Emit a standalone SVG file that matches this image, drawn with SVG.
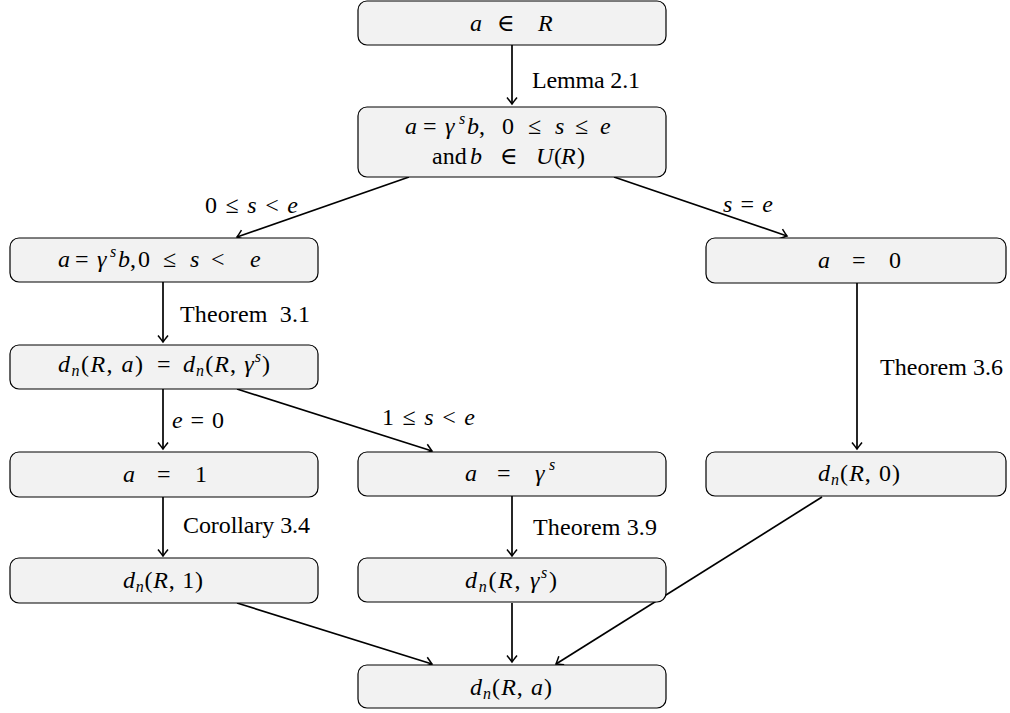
<svg xmlns="http://www.w3.org/2000/svg" width="1010" height="713" viewBox="0 0 1010 713">
<style>
.node rect{fill:#f2f2f2;stroke:#000;stroke-width:1.2}
text{font-family:"Liberation Serif","DejaVu Serif",serif;font-size:24px;fill:#000}
.i{font-style:italic}
.sup{font-size:16px;font-style:italic}
.sub{font-size:16px;font-style:italic}
.edge{stroke:#000;stroke-width:1.7;fill:none;marker-end:url(#arr)}
</style>
<defs>
<marker id="arr" viewBox="-8 -6 10 12" markerWidth="10" markerHeight="12" refX="0" refY="0" orient="auto" markerUnits="userSpaceOnUse">
<path d="M-6.5,-5 Q-1.5,-1 0,0 Q-1.5,1 -6.5,5" fill="none" stroke="#000" stroke-width="1.5"/>
</marker>
</defs>
<rect width="1010" height="713" fill="#fff"/>

<g id="edges">
<line class="edge" x1="512" y1="45" x2="512" y2="104"/>
<line class="edge" x1="409" y1="177" x2="237" y2="237"/>
<line class="edge" x1="614" y1="177" x2="787" y2="236"/>
<line class="edge" x1="163" y1="282" x2="163" y2="342"/>
<line class="edge" x1="163" y1="389" x2="163" y2="449"/>
<line class="edge" x1="237" y1="389" x2="432" y2="451"/>
<line class="edge" x1="857" y1="283" x2="857" y2="449"/>
<line class="edge" x1="163" y1="497" x2="163" y2="556"/>
<line class="edge" x1="512" y1="496" x2="512" y2="556"/>
<line class="edge" x1="237" y1="603" x2="432" y2="664"/>
<line class="edge" x1="512" y1="603" x2="512" y2="662"/>
<line class="edge" x1="822" y1="497" x2="556" y2="664"/>
<text x="532" y="88" textLength="108" lengthAdjust="spacing">Lemma 2.1</text>
<text x="205" y="213" textLength="93" lengthAdjust="spacing">0 ≤ <tspan class="i">s</tspan> &lt; <tspan class="i">e</tspan></text>
<text x="723" y="212" textLength="50" lengthAdjust="spacing"><tspan class="i">s</tspan> = <tspan class="i">e</tspan></text>
<text x="180" y="322" textLength="130" lengthAdjust="spacing" xml:space="preserve">Theorem  3.1</text>
<text x="172" y="428" textLength="52" lengthAdjust="spacing"><tspan class="i">e</tspan> = 0</text>
<text x="382" y="425" textLength="93" lengthAdjust="spacing">1 ≤ <tspan class="i">s</tspan> &lt; <tspan class="i">e</tspan></text>
<text x="880" y="375" textLength="123" lengthAdjust="spacing">Theorem 3.6</text>
<text x="183" y="533" textLength="127" lengthAdjust="spacing">Corollary 3.4</text>
<text x="533" y="535" textLength="124" lengthAdjust="spacing">Theorem 3.9</text>
</g>

<g id="n1" class="node">
<rect x="358" y="1" width="308" height="44" rx="9"/>
<text x="470" y="31" class="i">a</text>
<text x="497" y="31">∈</text>
<text x="538" y="31" class="i">R</text>
</g>

<g id="n2" class="node">
<rect x="358" y="107" width="308" height="70" rx="9"/>
<text x="405" y="134" class="i">a</text>
<text x="423" y="134">=</text>
<text x="445" y="134" class="i">γ</text>
<text x="459" y="124" class="sup">s</text>
<text x="467" y="134" class="i">b</text>
<text x="479" y="134">,</text>
<text x="502" y="134">0</text>
<text x="528" y="134">≤</text>
<text x="555" y="134" class="i">s</text>
<text x="575" y="134">≤</text>
<text x="600" y="134" class="i">e</text>
<text x="432" y="164">and</text>
<text x="470" y="164" class="i">b</text>
<text x="500" y="164">∈</text>
<text x="536" y="164" class="i">U</text>
<text x="554" y="164">(</text>
<text x="561" y="164" class="i">R</text>
<text x="577" y="164">)</text>
</g>

<g id="n3" class="node">
<rect x="10" y="238" width="308" height="44" rx="9"/>
<text x="58" y="267" class="i">a</text>
<text x="75" y="267">=</text>
<text x="97" y="267" class="i">γ</text>
<text x="110" y="257" class="sup">s</text>
<text x="118" y="267" class="i">b</text>
<text x="130" y="267">,</text>
<text x="138" y="267">0</text>
<text x="163" y="267">≤</text>
<text x="190" y="267" class="i">s</text>
<text x="211" y="267">&lt;</text>
<text x="250" y="267" class="i">e</text>
</g>

<g id="n4" class="node">
<rect x="706" y="238" width="300" height="45" rx="9"/>
<text x="818" y="268" class="i">a</text>
<text x="852" y="268">=</text>
<text x="889" y="268">0</text>
</g>

<g id="n5" class="node">
<rect x="10" y="345" width="308" height="44" rx="9"/>
<text x="58" y="372" textLength="85" lengthAdjust="spacing"><tspan class="i">d</tspan><tspan class="sub" dy="4">n</tspan><tspan dy="-4">(</tspan><tspan class="i">R</tspan>, <tspan class="i">a</tspan>)</text>
<text x="157" y="372">=</text>
<text x="183" y="372" textLength="87" lengthAdjust="spacing"><tspan class="i">d</tspan><tspan class="sub" dy="4">n</tspan><tspan dy="-4">(</tspan><tspan class="i">R</tspan>, <tspan class="i">γ</tspan><tspan class="sup" dy="-10">s</tspan><tspan dy="10">)</tspan></text>
</g>

<g id="n6" class="node">
<rect x="10" y="452" width="308" height="45" rx="9"/>
<text x="123" y="482" class="i">a</text>
<text x="157" y="482">=</text>
<text x="195" y="482">1</text>
</g>

<g id="n7" class="node">
<rect x="358" y="452" width="308" height="44" rx="9"/>
<text x="465" y="481" class="i">a</text>
<text x="497" y="481">=</text>
<text x="535" y="481" class="i">γ</text>
<text x="549" y="470" class="sup">s</text>
</g>

<g id="n8" class="node">
<rect x="706" y="452" width="300" height="44" rx="9"/>
<text x="818" y="481" textLength="82" lengthAdjust="spacing"><tspan class="i">d</tspan><tspan class="sub" dy="4">n</tspan><tspan dy="-4">(</tspan><tspan class="i">R</tspan>, 0)</text>
</g>

<g id="n9" class="node">
<rect x="10" y="558" width="308" height="45" rx="9"/>
<text x="123" y="588" textLength="80" lengthAdjust="spacing"><tspan class="i">d</tspan><tspan class="sub" dy="4">n</tspan><tspan dy="-4">(</tspan><tspan class="i">R</tspan>, 1)</text>
</g>

<g id="n10" class="node">
<rect x="358" y="558" width="308" height="44" rx="9"/>
<text x="465" y="588" textLength="92" lengthAdjust="spacing"><tspan class="i">d</tspan><tspan class="sub" dy="4">n</tspan><tspan dy="-4">(</tspan><tspan class="i">R</tspan>, <tspan class="i">γ</tspan><tspan class="sup" dy="-10">s</tspan><tspan dy="10">)</tspan></text>
</g>

<g id="n11" class="node">
<rect x="358" y="665" width="308" height="43" rx="9"/>
<text x="470" y="695" textLength="82" lengthAdjust="spacing"><tspan class="i">d</tspan><tspan class="sub" dy="4">n</tspan><tspan dy="-4">(</tspan><tspan class="i">R</tspan>, <tspan class="i">a</tspan>)</text>
</g>
</svg>
